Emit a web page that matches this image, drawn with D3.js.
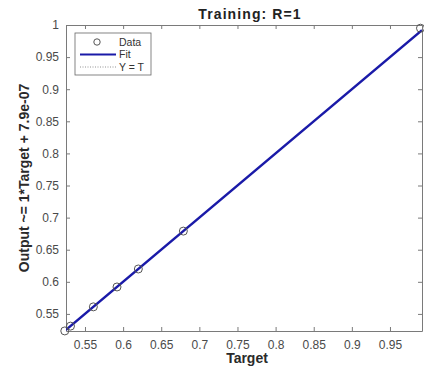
<!DOCTYPE html>
<html>
<head>
<meta charset="utf-8">
<script src="https://cdn.jsdelivr.net/npm/d3@7"></script>
<style>
  body { margin: 0; background: #fff; }
  text { font-family: "Liberation Sans", Arial, sans-serif; }
</style>
</head>
<body>
<div id="chart"></div>
<script>
const targets = [0.5235, 0.531, 0.561, 0.592, 0.620, 0.679, 0.990];
const outputs = [0.5235, 0.531, 0.561, 0.592, 0.620, 0.679, 0.995];
const xTicks = [0.55, 0.6, 0.65, 0.7, 0.75, 0.8, 0.85, 0.9, 0.95];
const yTicks = [0.55, 0.6, 0.65, 0.7, 0.75, 0.8, 0.85, 0.9, 0.95, 1];
const xDomain = [0.5251, 0.992];
const yDomain = [0.5234, 1.0];

const width = 424, height = 367;
const margin = { top: 25, right: 2, bottom: 36, left: 66 };

const x = d3.scaleLinear().domain(xDomain).range([margin.left, width - margin.right]);
const y = d3.scaleLinear().domain(yDomain).range([height - margin.bottom, margin.top]);

const svg = d3.select("#chart").append("svg")
  .attr("width", width).attr("height", height);

svg.append("clipPath").attr("id", "clip")
  .append("rect")
  .attr("x", margin.left).attr("y", margin.top)
  .attr("width", width - margin.left - margin.right)
  .attr("height", height - margin.top - margin.bottom);

const axisColor = "#7a7a7a";
const labelColor = "#4a4a4a";

// axes (ticks point inward)
const gx = svg.append("g")
  .attr("transform", `translate(0,${height - margin.bottom})`)
  .call(d3.axisBottom(x).tickValues(xTicks).tickSizeInner(-4).tickSizeOuter(0)
    .tickPadding(9).tickFormat(d3.format("")));
const gxTop = svg.append("g")
  .attr("transform", `translate(0,${margin.top})`)
  .call(d3.axisTop(x).tickValues(xTicks).tickSizeInner(-4).tickSizeOuter(0).tickFormat(""));
const gy = svg.append("g")
  .attr("transform", `translate(${margin.left},0)`)
  .call(d3.axisLeft(y).tickValues(yTicks).tickSizeInner(-4).tickSizeOuter(0)
    .tickPadding(7).tickFormat(d3.format("")));
const gyRight = svg.append("g")
  .attr("transform", `translate(${width - margin.right},0)`)
  .call(d3.axisRight(y).tickValues(yTicks).tickSizeInner(-4).tickSizeOuter(0).tickFormat(""));

[gx, gxTop, gy, gyRight].forEach(g => {
  g.select(".domain").attr("stroke", axisColor);
  g.selectAll(".tick line").attr("stroke", axisColor);
  g.selectAll(".tick text").attr("fill", labelColor)
    .style("font-size", "12px").style("font-family", "'Liberation Sans', Arial, sans-serif");
});

const plot = svg.append("g").attr("clip-path", "url(#clip)");

// Y = T
plot.append("line")
  .attr("x1", x(xDomain[0])).attr("y1", y(xDomain[0]))
  .attr("x2", x(xDomain[1])).attr("y2", y(xDomain[1]))
  .attr("stroke", "#555").attr("stroke-width", 0.8).attr("stroke-dasharray", "1,2");

// Fit line: output = 1*target + 7.9e-07 across the axis range
plot.append("line")
  .attr("x1", x(xDomain[0])).attr("y1", y(xDomain[0] + 7.9e-7))
  .attr("x2", x(xDomain[1])).attr("y2", y(xDomain[1] + 7.9e-7))
  .attr("stroke", "#1a1aa8").attr("stroke-width", 2.4);

// data circles (markers not clipped, as in MATLAB)
svg.selectAll(".dot")
  .data(targets.map((t, i) => ({ t, o: outputs[i] })))
  .join("circle")
  .attr("class", "dot")
  .attr("cx", d => x(d.t))
  .attr("cy", d => y(d.o))
  .attr("r", 4)
  .attr("fill", "none")
  .attr("stroke", "#555")
  .attr("stroke-width", 1);

// title and axis labels
svg.append("text")
  .attr("x", 250)
  .attr("y", 19)
  .attr("text-anchor", "middle")
  .style("font-weight", "bold").style("font-size", "14px")
  .style("letter-spacing", "1.1px")
  .attr("fill", "#222")
  .text("Training: R=1");

svg.append("text")
  .attr("x", 247)
  .attr("y", 363)
  .attr("text-anchor", "middle")
  .style("font-weight", "bold").style("font-size", "14px")
  .attr("fill", "#2a2a2a")
  .text("Target");

svg.append("text")
  .attr("transform", `translate(29,${(margin.top + height - margin.bottom) / 2}) rotate(-90)`)
  .attr("text-anchor", "middle")
  .style("font-weight", "bold").style("font-size", "14px")
  .attr("fill", "#2a2a2a")
  .text("Output ~= 1*Target + 7.9e-07");

// legend
const legendItems = ["Data", "Fit", "Y = T"];
const lg = svg.append("g").attr("transform", "translate(75,33)");
lg.append("rect")
  .attr("width", 76).attr("height", 42)
  .attr("fill", "#fff").attr("stroke", "#666").attr("stroke-width", 0.8);
const rows = lg.selectAll(".legend")
  .data(legendItems)
  .join("g")
  .attr("class", "legend")
  .attr("transform", (d, i) => `translate(0,${9 + i * 12.5})`);
rows.append("text")
  .attr("x", 44).attr("dy", "0.35em")
  .style("font-size", "10.5px").attr("fill", "#333")
  .text(d => d);
rows.filter((d, i) => i === 0).append("circle")
  .attr("cx", 22).attr("r", 3.2)
  .attr("fill", "none").attr("stroke", "#555").attr("stroke-width", 1);
rows.filter((d, i) => i === 1).append("line")
  .attr("x1", 5).attr("x2", 41)
  .attr("stroke", "#1a1aa8").attr("stroke-width", 2);
rows.filter((d, i) => i === 2).append("line")
  .attr("x1", 5).attr("x2", 41)
  .attr("stroke", "#777").attr("stroke-width", 0.8).attr("stroke-dasharray", "1,1.5");
</script>
</body>
</html>
